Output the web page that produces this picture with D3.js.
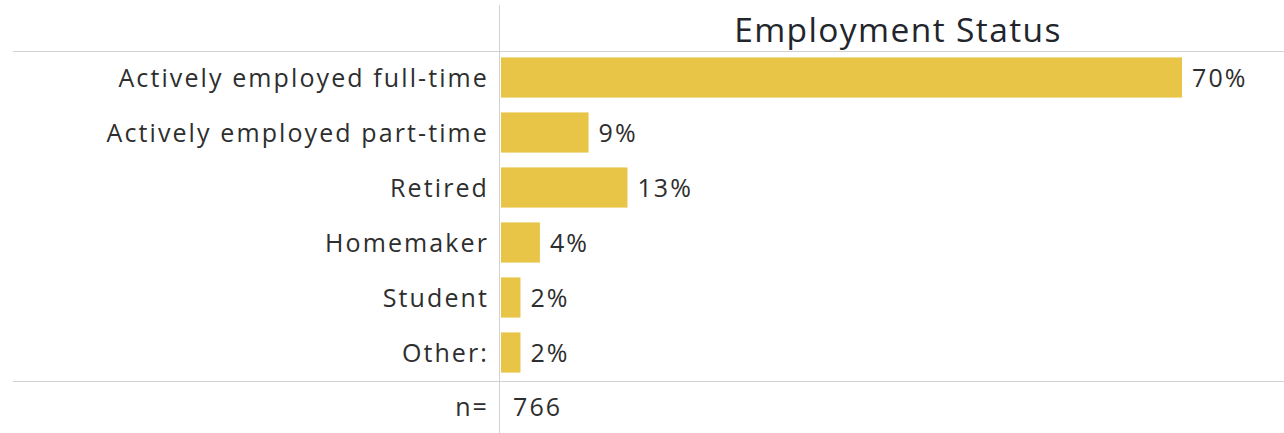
<!DOCTYPE html>
<html>
<head>
<meta charset="utf-8">
<script src="https://cdn.jsdelivr.net/npm/d3@7"></script>
<style>
  html, body { margin: 0; padding: 0; background: #fff; }
  svg { display: block; }
  text { font-family: "Open Sans", "Noto Sans", sans-serif; }
  .lbl { font-size: 25px; letter-spacing: 2.1px; fill: #2e2e2e; }
  .ttl { font-size: 33.5px; letter-spacing: 1.4px; fill: #22252b; }
</style>
</head>
<body>
<svg id="chart" width="1284" height="433"></svg>
<script>
// Employment status of respondents (share of total, %)
const categories = [
  "Actively employed full-time",
  "Actively employed part-time",
  "Retired",
  "Homemaker",
  "Student",
  "Other:"
];
const shares = [70, 9, 13, 4, 2, 2];
const sampleSize = 766;
const title = "Employment Status";

const W = 1284, H = 433;
const axisX = 499;       // divider between row labels and bars
const headerY = 51;      // rule under the title
const footerY = 381;     // rule above the sample-size row
const labelRight = 489;  // right edge of the row labels

const svg = d3.select("#chart");

const rows = categories.map((c, i) => ({ category: c, value: shares[i] }));

const x = d3.scaleLinear()
  .domain([0, 70])
  .range([axisX + 2, 1182]);

const y = d3.scaleBand()
  .domain(categories)
  .range([headerY - 1, footerY - 1])
  .paddingInner(0.27)
  .paddingOuter(0.135);

// grid rules
const ruleColor = "#d2d2d2";
svg.append("line")
  .attr("x1", 13).attr("x2", W)
  .attr("y1", headerY + 0.5).attr("y2", headerY + 0.5)
  .attr("stroke", ruleColor).attr("stroke-width", 1);
svg.append("line")
  .attr("x1", 13).attr("x2", W)
  .attr("y1", footerY + 0.5).attr("y2", footerY + 0.5)
  .attr("stroke", ruleColor).attr("stroke-width", 1);
svg.append("line")
  .attr("x1", axisX + 0.5).attr("x2", axisX + 0.5)
  .attr("y1", 5).attr("y2", H)
  .attr("stroke", ruleColor).attr("stroke-width", 1);

// title
svg.append("text")
  .attr("class", "ttl")
  .attr("x", 898)
  .attr("y", 42)
  .attr("text-anchor", "middle")
  .text(title);

// bars
svg.append("g").selectAll("rect")
  .data(rows)
  .join("rect")
  .attr("x", x(0))
  .attr("y", d => y(d.category))
  .attr("width", d => x(d.value) - x(0))
  .attr("height", y.bandwidth())
  .attr("fill", "#e9c547");

// row labels
svg.append("g").selectAll("text")
  .data(rows)
  .join("text")
  .attr("class", "lbl")
  .attr("x", labelRight)
  .attr("y", d => y(d.category) + y.bandwidth() / 2)
  .attr("dy", "0.36em")
  .attr("text-anchor", "end")
  .text(d => d.category);

// value labels
svg.append("g").selectAll("text")
  .data(rows)
  .join("text")
  .attr("class", "lbl")
  .attr("x", d => x(d.value) + 10)
  .attr("y", d => y(d.category) + y.bandwidth() / 2)
  .attr("dy", "0.36em")
  .text(d => d.value + "%");

// sample size row
svg.append("text")
  .attr("class", "lbl")
  .attr("x", labelRight)
  .attr("y", 407)
  .attr("dy", "0.36em")
  .attr("text-anchor", "end")
  .text("n=");
svg.append("text")
  .attr("class", "lbl")
  .attr("x", 513)
  .attr("y", 407)
  .attr("dy", "0.36em")
  .text(sampleSize);
</script>
</body>
</html>
